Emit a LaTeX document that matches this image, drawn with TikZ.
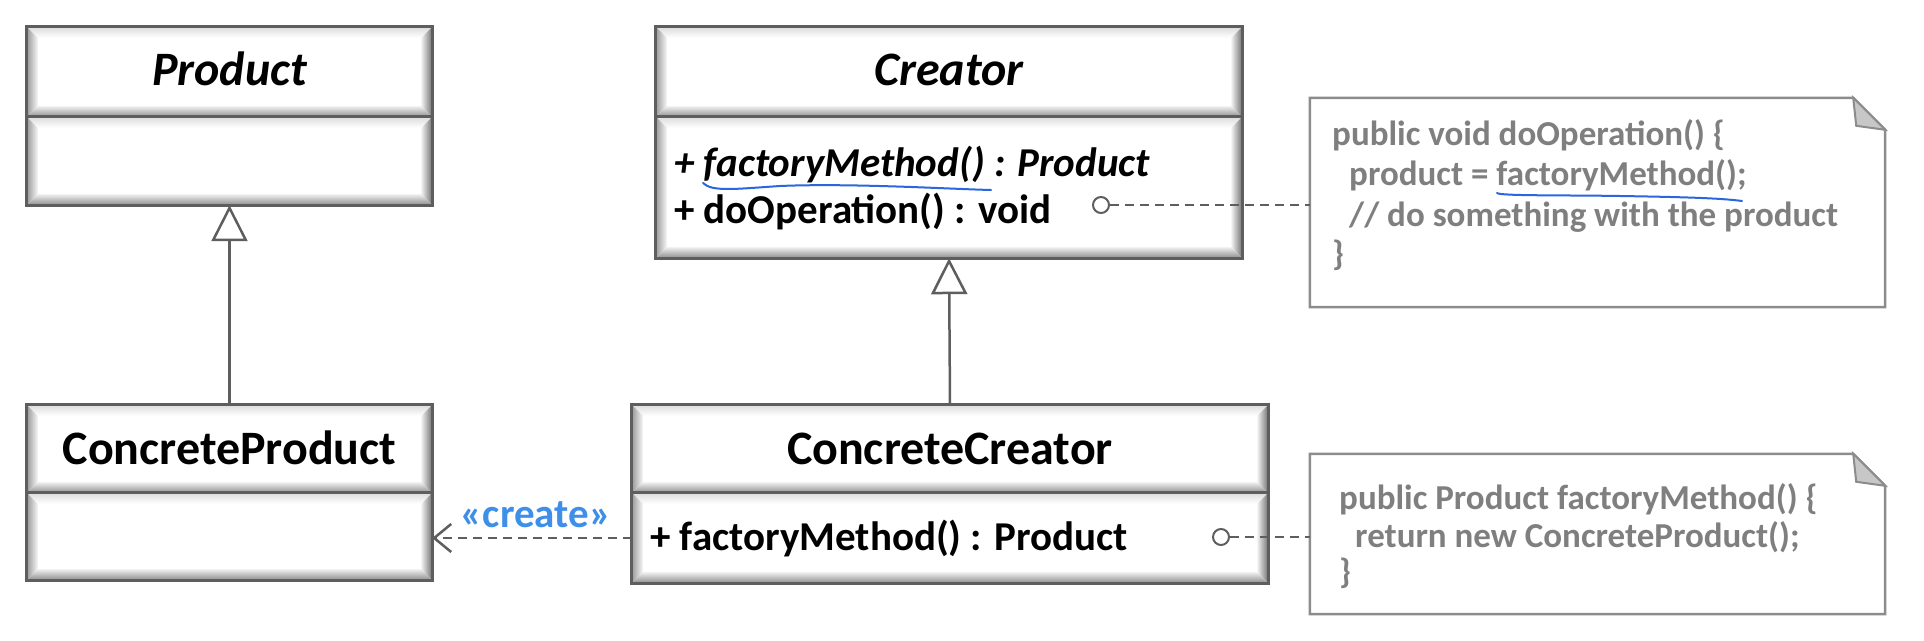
\documentclass[tikz,border=0pt]{standalone}
\usepackage{fontspec}
\setmainfont{Carlito}
\usetikzlibrary{arrows.meta,calc}
\definecolor{edge}{HTML}{5E5E5E}
\definecolor{notegray}{HTML}{7F7F7F}
\definecolor{noteline}{HTML}{8C8C8C}
\definecolor{stereo}{HTML}{3D8FEA}
\definecolor{ink}{HTML}{2A66DD}
\newcommand\bevelbox[1]{%
  \shade[top color=black!14,bottom color=white] (#1.north west) -- (#1.north east) -- ([shift={(-11,11)}]#1.north east) -- ([shift={(11,11)}]#1.north west) -- cycle;
  \shade[left color=black!40,right color=black!3] (#1.north west) -- ([shift={(11,11)}]#1.north west) -- ([shift={(11,-11)}]#1.south west) -- (#1.south west) -- cycle;
  \shade[right color=black!55,left color=black!5] (#1.north east) -- ([shift={(-11,11)}]#1.north east) -- ([shift={(-11,-11)}]#1.south east) -- (#1.south east) -- cycle;
  \shade[bottom color=black!45,top color=black!6] (#1.south west) -- ([shift={(11,-11)}]#1.south west) -- ([shift={(-11,-11)}]#1.south east) -- (#1.south east) -- cycle;
  \draw[line width=3pt,edge] (#1.north west) rectangle (#1.south east);
}
\newcommand\notebox[1]{%
  \draw[line width=2.5pt,noteline,fill=white] (#1.north west) -- ([xshift=-32pt]#1.north east) -- ([yshift=-32pt]#1.north east) -- (#1.south east) -- (#1.south west) -- cycle;
  \draw[line width=2pt,noteline,fill=black!22] ([xshift=-32pt]#1.north east) -- ([xshift=-29pt,yshift=-28pt]#1.north east) -- ([yshift=-32pt]#1.north east) -- cycle;
}
\tikzset{
  compart/.style={rectangle,fill=white,inner sep=0pt},
  classname/.style={font=\fontsize{48pt}{57pt}\selectfont\bfseries,inner sep=0pt,anchor=base},
  member/.style={font=\fontsize{41pt}{49pt}\selectfont\bfseries,inner sep=0pt,anchor=base west},
  notetext/.style={font=\fontsize{35pt}{42pt}\selectfont\bfseries,text=notegray,inner sep=0pt,anchor=base west},
  gen/.style={draw=edge,line width=2.5pt,-{Triangle[open,length=36pt,width=36pt]}},
  dep/.style={draw=edge,line width=2.5pt,dash pattern=on 9pt off 6pt,-{Straight Barb[length=17pt,width=28pt]}},
  notelink/.style={draw=edge,line width=2.5pt,dash pattern=on 9pt off 6pt},
  lollipop/.style={circle,draw=edge,fill=white,line width=2pt,inner sep=0pt,minimum size=16pt},
  scribble/.style={draw=ink,line width=2pt,line cap=round}
}
\begin{document}
\begin{tikzpicture}[x=1pt,y=-1pt]
\useasboundingbox[fill=white] (0,0) rectangle (1924,640);

% Product
\node[compart,minimum width=405pt,minimum height=90pt] (prodT) at (229.5,72) {};
\node[compart,minimum width=405pt,minimum height=88pt] (prodB) at (229.5,161) {};
\bevelbox{prodT}\bevelbox{prodB}
\node[classname] (prodN) at (229.5,85) {\itshape Product};

% ConcreteProduct
\node[compart,minimum width=405pt,minimum height=88pt] (cpT) at (229.5,449) {};
\node[compart,minimum width=405pt,minimum height=87pt] (cpB) at (229.5,536.5) {};
\bevelbox{cpT}\bevelbox{cpB}
\node[classname] (cpN) at (229.5,464) {ConcreteProduct};

% Creator
\node[compart,minimum width=586pt,minimum height=90pt] (crT) at (949,72) {};
\node[compart,minimum width=586pt,minimum height=141pt] (crB) at (949,187.5) {};
\bevelbox{crT}\bevelbox{crB}
\node[classname] (crN) at (949,85) {\itshape Creator};
\node[member] (crM1) at (674,176) {\itshape + factoryMethod() : Product};
\node[member] (crM2) at (674,223) {+ doOperation() : void};

% ConcreteCreator
\node[compart,minimum width=636pt,minimum height=88pt] (ccT) at (950,449) {};
\node[compart,minimum width=636pt,minimum height=90pt] (ccB) at (950,538) {};
\bevelbox{ccT}\bevelbox{ccB}
\node[classname] (ccN) at (950,464) {ConcreteCreator};
\node[member] (ccM1) at (650,550) {+ factoryMethod() : Product};

% notes
\node[rectangle,inner sep=0pt,minimum width=575pt,minimum height=209pt] (note1) at (1597.5,202.5) {};
\notebox{note1}
\node[notetext] (n1a) at (1332,145) {public void doOperation() \{};
\node[notetext] (n1b) at (1349,185) {product = factoryMethod();};
\node[notetext] (n1c) at (1349,226) {// do something with the product};
\node[notetext] (n1d) at (1332,265) {\}};

\node[rectangle,inner sep=0pt,minimum width=575pt,minimum height=160pt] (note2) at (1597.5,534) {};
\notebox{note2}
\node[notetext] (n2a) at (1339,509) {public Product factoryMethod() \{};
\node[notetext] (n2b) at (1355,547) {return new ConcreteProduct();};
\node[notetext] (n2c) at (1339,583) {\}};

% connectors
\draw[gen] (cpT.north) -- (prodB.south);
\draw[gen] (ccT.north) -- (crB.south);
\draw[dep] (ccB.west) -- (ccB.west -| cpB.east);
\node[font=\fontsize{41pt}{49pt}\selectfont\bfseries,text=stereo,inner sep=0pt,anchor=base] (lbl) at (536,527) {«create»};

\node[lollipop] (c1) at (1101,205) {};
\draw[notelink] (c1.east) -- (c1.east -| note1.west);
\node[lollipop] (c2) at (1221,537) {};
\draw[notelink] (c2.east) -- (c2.east -| note2.west);

% hand-drawn underlines
\draw[scribble] (703,183) .. controls (712,192) and (735,189) .. (780,186) .. controls (850,183) and (950,189) .. (991,190);
\draw[scribble] (1497,193) .. controls (1500,196) and (1560,195) .. (1620,196) .. controls (1680,197) and (1720,198) .. (1742,201);
\end{tikzpicture}
\end{document}
